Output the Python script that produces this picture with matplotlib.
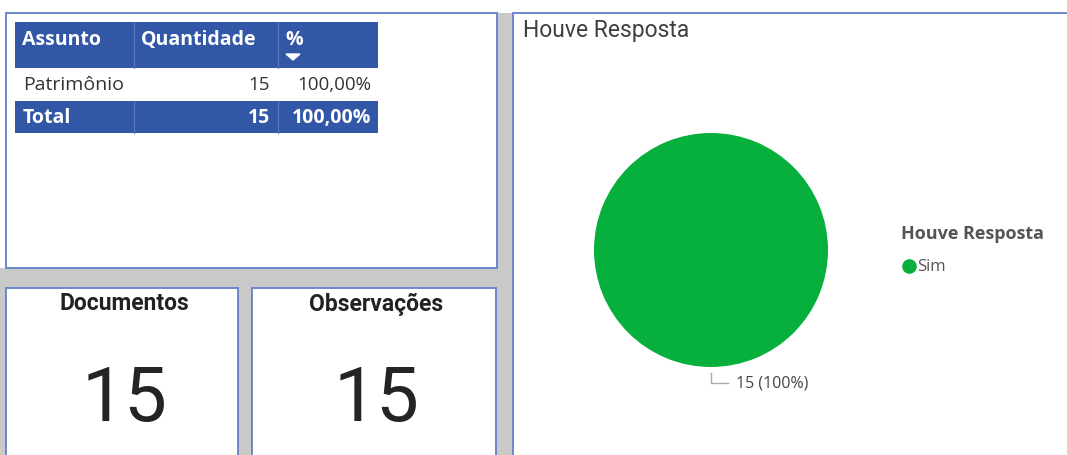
import matplotlib
matplotlib.use("Agg")
import matplotlib.pyplot as plt
from matplotlib.patches import Rectangle, Polygon

# dados do painel
colunas = ["Assunto", "Quantidade", "%"]
assuntos = ["Patrimônio"]
quantidades = [15]
percentuais = ["100,00%"]
total_qtd = 15
total_pct = "100,00%"

cartoes = ["Documentos", "Observações"]
cartoes_valores = [15, 15]

resposta_cat = ["Sim"]
resposta_val = [15]
resposta_cor = ["#07AF3D"]

AZUL = "#3357A7"
BORDA = "#6A88CC"
CINZA = "#C9C9C9"

W, H = 1067, 455
fig = plt.figure(figsize=(W / 100, H / 100), dpi=100)
fig.patch.set_facecolor("white")

bg = fig.add_axes([0, 0, 1, 1])
bg.set_xlim(0, W)
bg.set_ylim(H, 0)
bg.axis("off")

# fundo cinza entre os paineis
bg.add_patch(Rectangle((0, 13), 513, H - 13, color=CINZA, lw=0, zorder=0))
bg.add_patch(Rectangle((0, 0), 6, 268, color="white", lw=0, zorder=0))

def painel(x0, y0, x1, y1):
    bg.add_patch(Rectangle((x0, y0), x1 - x0, y1 - y0, facecolor="white",
                           edgecolor=BORDA, lw=1.4, zorder=1))

painel(6, 13, 497, 268)
painel(6, 288, 238, H + 5)
painel(252, 288, 496, H + 5)
painel(513, 13, W + 5, H + 5)

# tabela
fnt = "Open Sans"
col_x = [15, 134, 278, 378]
bg.add_patch(Rectangle((15, 22), 363, 46, color=AZUL, lw=0, zorder=2))
bg.add_patch(Rectangle((15, 101), 363, 32, color=AZUL, lw=0, zorder=2))
for cx in col_x[1:3]:
    bg.plot([cx, cx], [22, 68], color="#5A78BE", lw=0.8, zorder=3)
    bg.plot([cx, cx], [101, 133], color="#5A78BE", lw=0.8, zorder=3)
for i, c in enumerate(colunas):
    bg.text(col_x[i] + 7, 40, c, color="white", fontsize=14, fontweight="bold",
            family=fnt, va="center", ha="left", zorder=4)
bg.add_patch(Polygon([[286, 54], [300, 54], [293, 60]], closed=True, color="white", zorder=4))

for i, a in enumerate(assuntos):
    y = 85 + i * 33
    bg.text(23, y, a, fontsize=14, family=fnt, color="#333333", va="center", zorder=4)
    bg.text(270, y, str(quantidades[i]), fontsize=13.5, family=fnt, color="#333333",
            va="center", ha="right", zorder=4)
    bg.text(371, y, percentuais[i], fontsize=13.5, family=fnt, color="#333333",
            va="center", ha="right", zorder=4)
bg.text(23, 118, "Total", fontsize=14, family=fnt, fontweight="bold", color="white",
        va="center", zorder=4)
bg.text(270, 118, str(total_qtd), fontsize=14, family=fnt, fontweight="bold",
        color="white", va="center", ha="right", zorder=4)
bg.text(371, 118, total_pct, fontsize=14, family=fnt, fontweight="bold",
        color="white", va="center", ha="right", zorder=4)

# cartoes
for cx, titulo, val in zip([124, 376], cartoes, cartoes_valores):
    bg.text(cx, 304, titulo, fontsize=16.5, fontweight="bold", family="Roboto",
            color="#222222", ha="center", va="center", zorder=4)
    bg.text(cx, 400, str(val), fontsize=55, family="Roboto",
            color="#252423", ha="center", va="center", zorder=4)

# titulo do grafico
bg.text(523, 30, "Houve Resposta", fontsize=16.5, family="Roboto", color="#404040",
        ha="left", va="center", zorder=4)

# pizza
cx, cy, r = 711, 250, 117
pax = fig.add_axes([(cx - r) / W, (H - cy - r) / H, 2 * r / W, 2 * r / H])
wedges, _ = pax.pie(resposta_val, colors=resposta_cor, startangle=90, radius=1)
pax.set_xlim(-1, 1)
pax.set_ylim(-1, 1)
pax.set_aspect("equal")
pax.axis("off")

total = sum(resposta_val)
rotulo = f"{resposta_val[0]} ({resposta_val[0] / total * 100:.0f}%)"
pax.plot([0, 0, 0.145], [-1.05, -1.137, -1.137], color="#AAAAAA", lw=1, clip_on=False)
pax.text(0.21, -1.137, rotulo, fontsize=11.5, family=fnt, color="#444444",
         ha="left", va="center", clip_on=False)

# legenda
bg.text(901, 234, "Houve Resposta", fontsize=13, fontweight="bold", family=fnt,
        color="#555555", ha="left", va="center", zorder=4)
for i, (cat, cor) in enumerate(zip(resposta_cat, resposta_cor)):
    y = 266 + i * 24
    bg.plot([909], [y], marker="o", ls="", color=cor, markersize=9.5, zorder=4)
    bg.text(917, y + 1, cat, fontsize=12, family=fnt, color="#555555",
            ha="left", va="center", zorder=4)

fig.savefig("out.png", dpi=100)
